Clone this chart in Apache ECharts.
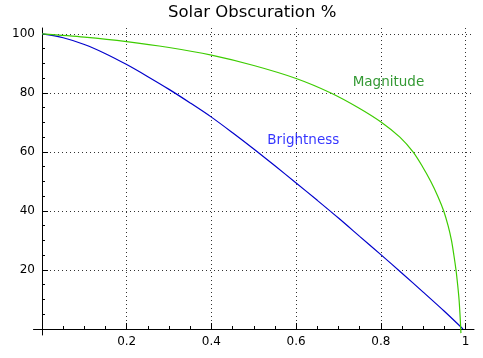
<!DOCTYPE html>
<html><head><meta charset="utf-8">
<script src="https://cdn.jsdelivr.net/npm/echarts@6/dist/echarts.min.js"></script>
<style>html,body{margin:0;padding:0;background:#fff}#c{width:483px;height:358px}</style>
</head><body><div id="c"></div>
<script>
const chartTitle = 'Solar Obscuration %';
const xTicks = [0.2, 0.4, 0.6, 0.8, 1];
const xMinorTicks = [0.05, 0.1, 0.15, 0.25, 0.3, 0.35, 0.45, 0.5, 0.55, 0.65, 0.7, 0.75, 0.85, 0.9, 0.95];
const yTicks = [20, 40, 60, 80, 100];
const yMinorTicks = [5, 10, 15, 25, 30, 35, 45, 50, 55, 65, 70, 75, 85, 90, 95];

const brightnessX = [0, 0.05, 0.1, 0.15, 0.2, 0.25, 0.3, 0.35, 0.4, 0.45, 0.5, 0.55, 0.6, 0.65, 0.7, 0.75, 0.8, 0.85, 0.9, 0.95, 0.994];
const brightnessY = [100, 98.7, 96.4, 93.3, 89.6, 85.5, 81.2, 76.6, 71.8, 66.5, 61.0, 55.3, 49.5, 43.6, 37.6, 31.4, 25.2, 18.9, 12.5, 6.0, 0];

const magnitudeX = [0, 0.1, 0.2, 0.3, 0.4, 0.5, 0.6, 0.682, 0.747, 0.802, 0.845, 0.876, 0.8985, 0.918, 0.9345, 0.9485, 0.9588, 0.9668, 0.9725, 0.9775, 0.9814, 0.9847, 0.9869, 0.9887, 0.9891];
const magnitudeY = [100, 98.9, 97.4, 95.4, 92.8, 89.3, 84.9, 80, 75, 70, 65, 60, 55, 50, 45, 40, 35, 30, 25, 20, 15, 10, 5, 0, -1.4];

const labelNames = ['Magnitude', 'Brightness'];
const labelX = [0.818, 0.617];
const labelY = [83.7, 63.9];
const labelColors = ['#008000', '#0000ff'];

const FONT = 'DejaVu Sans';
const zip = (xs, ys) => xs.map((x, i) => [x, ys[i]]);

const chart = echarts.init(document.getElementById('c'), null, {renderer: 'canvas'});
const dotted = {type: [1, 3], color: '#333', width: 1};
chart.setOption({
  animation: false,
  backgroundColor: '#fff',
  textStyle: {fontFamily: FONT},
  title: {text: chartTitle, left: 168, top: 4, padding: 0,
    textStyle: {fontFamily: FONT, fontSize: 16.5, fontWeight: 'normal', color: '#000'}},
  grid: [
    {left: 42, right: 9, top: 28, bottom: 29},
    {left: 33.5, right: 9, top: 28, bottom: 23}
  ],
  xAxis: [
    {gridIndex: 0, type: 'value', min: 0, max: 1.02,
      axisLine: {show: false},
      axisTick: {show: true, inside: true, length: 6, customValues: xTicks, lineStyle: {color: '#000'}},
      axisLabel: {customValues: xTicks, fontSize: 12, color: '#000', margin: 7, fontFamily: FONT},
      splitLine: {show: true, lineStyle: dotted}},
    {gridIndex: 0, type: 'value', min: 0, max: 1.02, position: 'bottom',
      axisLine: {show: false},
      axisTick: {show: true, inside: true, length: 3, customValues: xMinorTicks, lineStyle: {color: '#000'}},
      axisLabel: {show: false}, splitLine: {show: false}},
    {gridIndex: 1, type: 'value', min: -0.02, max: 1.02,
      axisLine: {show: true, onZero: true, lineStyle: {color: '#000', width: 1}},
      axisTick: {show: false}, axisLabel: {show: false}, splitLine: {show: false}}
  ],
  yAxis: [
    {gridIndex: 0, type: 'value', min: 0, max: 102,
      axisLine: {show: false},
      axisTick: {show: true, inside: true, length: 6, customValues: yTicks, lineStyle: {color: '#000'}},
      axisLabel: {customValues: yTicks, fontSize: 12, color: '#000', margin: 7, fontFamily: FONT},
      splitLine: {show: true, lineStyle: dotted}},
    {gridIndex: 0, type: 'value', min: 0, max: 102, position: 'left',
      axisLine: {show: false},
      axisTick: {show: true, inside: true, length: 3, customValues: yMinorTicks, lineStyle: {color: '#000'}},
      axisLabel: {show: false}, splitLine: {show: false}},
    {gridIndex: 1, type: 'value', min: -2, max: 102,
      axisLine: {show: true, onZero: true, lineStyle: {color: '#000', width: 1}},
      axisTick: {show: false}, axisLabel: {show: false}, splitLine: {show: false}}
  ],
  series: [
    {type: 'line', name: 'Brightness', xAxisIndex: 0, yAxisIndex: 0, data: zip(brightnessX, brightnessY),
      symbol: 'none', smooth: 0.3, clip: false, silent: true,
      lineStyle: {color: '#0000cc', width: 1.2}, z: 5},
    {type: 'line', name: 'Magnitude', xAxisIndex: 0, yAxisIndex: 0, data: zip(magnitudeX, magnitudeY),
      symbol: 'none', smooth: 0.3, clip: false, silent: true,
      lineStyle: {color: '#3dcc00', width: 1.2}, z: 5},
    {type: 'scatter', xAxisIndex: 0, yAxisIndex: 0, symbolSize: 0, silent: true, z: 6,
      data: labelNames.map((n, i) => ({name: n, value: [labelX[i], labelY[i]],
        label: {color: labelColors[i]}})),
      label: {show: true, position: 'inside', formatter: p => p.name, fontSize: 13.5, fontFamily: FONT}}
  ]
});
</script></body></html>
